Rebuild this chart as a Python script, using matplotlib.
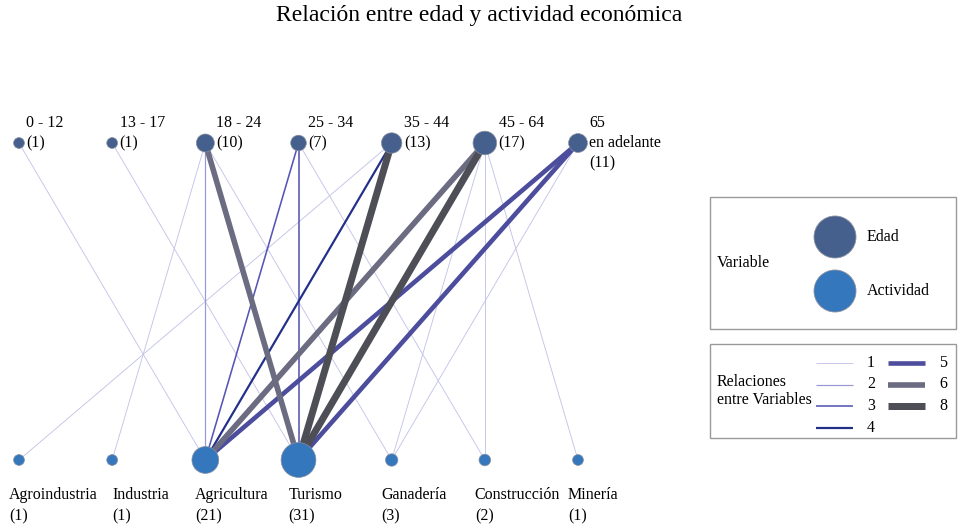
import numpy as np
import matplotlib
matplotlib.use("Agg")
import matplotlib.pyplot as plt
from matplotlib.patches import Rectangle, Circle
from matplotlib.lines import Line2D

plt.rcParams["font.family"] = ["Liberation Serif", "DejaVu Serif"]

# ---------------------------------------------------------------------------
# Data
# ---------------------------------------------------------------------------
AGE_TOP = ["0 - 12", "13 - 17", "18 - 24", "25 - 34", "35 - 44", "45 - 64", "65"]
AGE_SUB = ["", "", "", "", "", "", "en adelante"]
AGE_N = [1, 1, 10, 7, 13, 17, 11]

ACTIVITIES = ["Agroindustria", "Industria", "Agricultura", "Turismo",
              "Ganadería", "Construcción", "Minería"]
ACT_N = [1, 1, 21, 31, 3, 2, 1]

# relations: age index -> activity index, number of people
EDGE_AGE = [0, 1, 2, 2, 2, 2, 3, 3, 3, 4, 4, 4, 5, 5, 5, 5, 5, 6, 6, 6]
EDGE_ACT = [2, 3, 1, 2, 3, 4, 2, 3, 5, 0, 2, 3, 2, 3, 4, 5, 6, 2, 3, 4]
EDGE_W   = [1, 1, 1, 2, 6, 1, 3, 3, 1, 1, 4, 8, 6, 8, 1, 1, 1, 5, 5, 1]

LEGEND_W = [1, 2, 3, 4, 5, 6, 8]

# ---------------------------------------------------------------------------
# Style
# ---------------------------------------------------------------------------
PX = 0.72  # points per pixel at dpi 100
AGE_COLOR = "#45608c"
ACT_COLOR = "#3577bd"
W_COLOR = {1: "#c4c4e8", 2: "#9898d6", 3: "#5656b6", 4: "#23308a",
           5: "#4d4d9e", 6: "#6b6b82", 8: "#4e4e56"}
W_LW = {1: 0.9, 2: 1.2, 3: 1.6, 4: 2.2, 5: 4.6, 6: 5.6, 8: 7.0}
FS = 11.5


def diam(n):
    return 10 + 0.8 * n  # node diameter in pixels


fig = plt.figure(figsize=(9.58, 5.24), dpi=100)
fig.suptitle("Relación entre edad y actividad económica", fontsize=17, y=0.99)

ax = fig.add_axes([19 / 958, 1 - 460 / 524, (578 - 19) / 958, (460 - 143) / 524])
ax.set_xlim(0, 6)
ax.set_ylim(0, 1)
ax.axis("off")

x_age = np.arange(len(AGE_N))
x_act = np.arange(len(ACT_N))

order = np.argsort(EDGE_W, kind="stable")
for k in order:
    w = EDGE_W[k]
    ax.plot([x_age[EDGE_AGE[k]], x_act[EDGE_ACT[k]]], [1, 0],
            color=W_COLOR[w], lw=W_LW[w] * PX, solid_capstyle="butt",
            clip_on=False, zorder=2)

ax.scatter(x_age, np.ones(len(AGE_N)), s=[(diam(n) * PX) ** 2 for n in AGE_N],
           color=AGE_COLOR, edgecolor="#8a8fa0", linewidth=0.5, zorder=3, clip_on=False)
ax.scatter(x_act, np.zeros(len(ACT_N)), s=[(diam(n) * PX) ** 2 for n in ACT_N],
           color=ACT_COLOR, edgecolor="#8a8fa0", linewidth=0.5, zorder=3, clip_on=False)

for i, (top, sub, n) in enumerate(zip(AGE_TOP, AGE_SUB, AGE_N)):
    dx = (diam(n) / 2 + 2) * PX
    ax.annotate(top, (x_age[i], 1), xytext=(dx, 20 * PX), textcoords="offset points",
                ha="left", va="center", fontsize=FS)
    lines = [sub, f"({n})"] if sub else [f"({n})"]
    for j, t in enumerate(lines):
        ax.annotate(t, (x_age[i], 1), xytext=(dx, -20 * j * PX),
                    textcoords="offset points", ha="left", va="center", fontsize=FS)

for i, (name, n) in enumerate(zip(ACTIVITIES, ACT_N)):
    dx = 0 if name == "Industria" else -10 * PX
    ax.annotate(name, (x_act[i], 0), xytext=(dx, -35 * PX), textcoords="offset points",
                ha="left", va="center", fontsize=FS)
    ax.annotate(f"({n})", (x_act[i], 0), xytext=(dx, -56 * PX), textcoords="offset points",
                ha="left", va="center", fontsize=FS)

# ---------------------------------------------------------------------------
# Legends (overlay axes in pixel coordinates)
# ---------------------------------------------------------------------------
lg = fig.add_axes([0, 0, 1, 1])
lg.set_xlim(0, 958)
lg.set_ylim(524, 0)
lg.axis("off")

lg.add_patch(Rectangle((710, 197), 246, 132, fill=False, edgecolor="#9a9a9a", lw=1))
lg.text(717, 263, "Variable", fontsize=FS, va="center")
lg.add_patch(Circle((835, 237), 21, facecolor=AGE_COLOR, edgecolor="#8a8fa0", lw=0.6))
lg.add_patch(Circle((835, 291), 21, facecolor=ACT_COLOR, edgecolor="#8a8fa0", lw=0.6))
lg.text(867, 237, "Edad", fontsize=FS, va="center")
lg.text(867, 291, "Actividad", fontsize=FS, va="center")

lg.add_patch(Rectangle((710, 344), 246, 94, fill=False, edgecolor="#9a9a9a", lw=1))
lg.text(717, 391, "Relaciones\nentre Variables", fontsize=FS, va="center", linespacing=1.15)
for k, w in enumerate(LEGEND_W):
    col, row = divmod(k, 4)
    x0 = 816 + col * 72
    y0 = 363 + row * 21.5
    lg.add_line(Line2D([x0, x0 + 37], [y0, y0], color=W_COLOR[w], lw=W_LW[w] * PX,
                       solid_capstyle="butt"))
    lg.text(x0 + 51, y0, str(w), fontsize=FS, va="center")

fig.savefig("out.png", dpi=100)
